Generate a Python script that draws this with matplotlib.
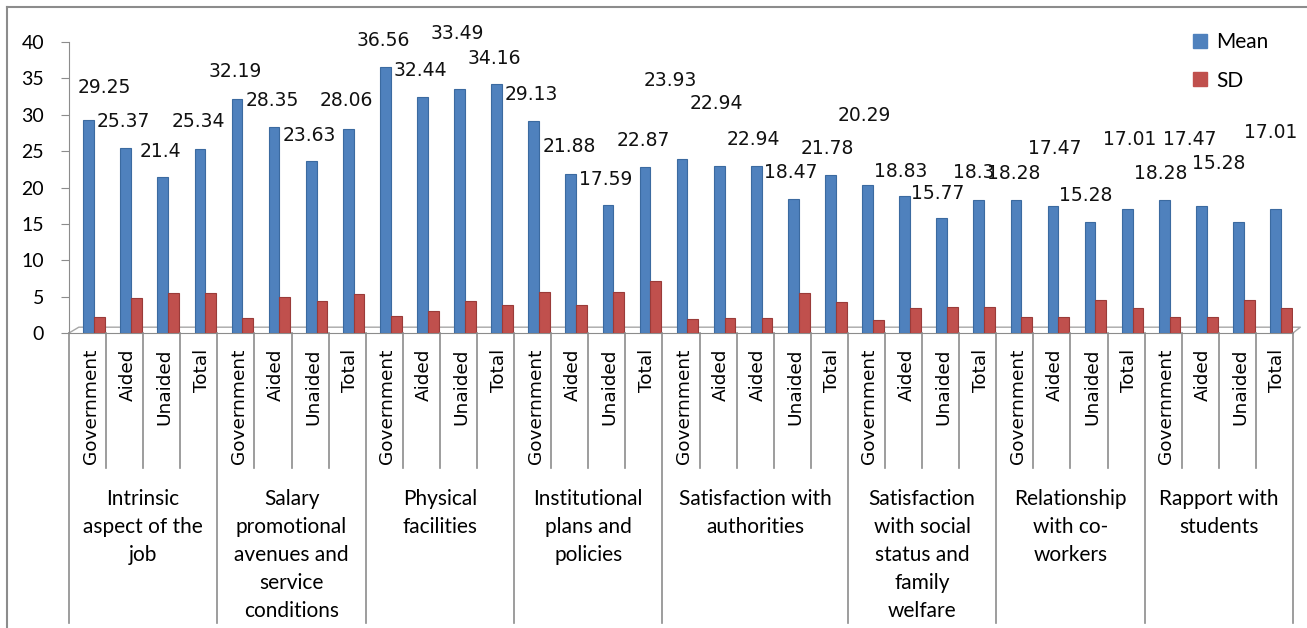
import matplotlib
matplotlib.use("Agg")
import matplotlib.pyplot as plt
import matplotlib.transforms as mtransforms
from matplotlib.lines import Line2D
from matplotlib.patches import Patch

# ---------------- data ----------------
groups = [
    "Intrinsic\naspect of the\njob",
    "Salary\npromotional\navenues and\nservice\nconditions",
    "Physical\nfacilities",
    "Institutional\nplans and\npolicies",
    "Satisfaction with\nauthorities",
    "Satisfaction\nwith social\nstatus and\nfamily\nwelfare",
    "Relationship\nwith co-\nworkers",
    "Rapport with\nstudents",
]
group_sizes = [4, 4, 4, 4, 5, 4, 4, 4]
subcats = [
    "Government", "Aided", "Unaided", "Total",
    "Government", "Aided", "Unaided", "Total",
    "Government", "Aided", "Unaided", "Total",
    "Government", "Aided", "Unaided", "Total",
    "Government", "Aided", "Aided", "Unaided", "Total",
    "Government", "Aided", "Unaided", "Total",
    "Government", "Aided", "Unaided", "Total",
    "Government", "Aided", "Unaided", "Total",
]
mean = [29.25, 25.37, 21.4, 25.34,
        32.19, 28.35, 23.63, 28.06,
        36.56, 32.44, 33.49, 34.16,
        29.13, 21.88, 17.59, 22.87,
        23.93, 22.94, 22.94, 18.47, 21.78,
        20.29, 18.83, 15.77, 18.3,
        18.28, 17.47, 15.28, 17.01,
        18.28, 17.47, 15.28, 17.01]
sd = [2.15, 4.8, 5.55, 5.45,
      2.1, 4.95, 4.35, 5.3,
      2.35, 3.0, 4.4, 3.8,
      5.7, 3.8, 5.65, 7.1,
      1.95, 2.1, 2.1, 5.5, 4.3,
      1.85, 3.5, 3.6, 3.6,
      2.15, 2.15, 4.6, 3.4,
      2.15, 2.15, 4.6, 3.4]
series_names = ["Mean", "SD"]
yticks = [0, 5, 10, 15, 20, 25, 30, 35, 40]

# label placement (style): pixel offsets of each value label from its bar top
label_dx = [16, -2, -2, -2, -2, -2, -2, -2, -2, -2, -2, -2, -2, -2, -2, -2,
            -12, -3, -3, -3, -3, -3, -4, -4, -5, -2, 2, -4, 2, -4, -12, -20, -5]
label_dy = [33, 27, 26, 27, 27, 26, 26, 28, 27, 26, 56, 26, 27, 27, 26, 26,
            78, 63, 27, 26, 26, 70, 25, 25, 27, 27, 57, 26, 70, 27, 66, 58, 77]

# ---------------- style ----------------
W, H = 1307, 628
BLUE, BLUE_E = "#4F81BD", "#3B6AA0"
RED, RED_E = "#C0504D", "#9A3B39"
GRAY = "#8C8C8C"
NUMFONT = ["DejaVu Sans"]
TXTFONT = ["Lato", "DejaVu Sans"]

fig = plt.figure(figsize=(W / 100, H / 100), dpi=100)
fig.patch.set_facecolor("white")
ax_left, ax_right, ax_bot, ax_top = 69, 1293, 333, 42
ax = fig.add_axes([ax_left / W, 1 - ax_bot / H, (ax_right - ax_left) / W, (ax_bot - ax_top) / H])

n = len(mean)
xs = list(range(n))
bw = 0.29
ax.bar([x + 0.03 for x in xs], mean, width=bw, color=BLUE, edgecolor=BLUE_E, linewidth=0.8, zorder=3)
ax.bar([x + 0.32 for x in xs], sd, width=bw, color=RED, edgecolor=RED_E, linewidth=0.8, zorder=3)

for i, v in enumerate(mean):
    ax.annotate(f"{v:g}", xy=(i + 0.03, v), xytext=(label_dx[i], label_dy[i]),
                textcoords="offset pixels", ha="center", va="center",
                fontsize=13.5, family=NUMFONT, color="#111111", zorder=5)

ax.set_xlim(-0.5, n - 0.5)
ax.set_ylim(0, 40)
ax.set_yticks(yticks)
ax.set_yticklabels([str(t) for t in yticks], fontsize=14, family=TXTFONT)
ax.set_xticks([])
for s in ["top", "right"]:
    ax.spines[s].set_visible(False)
ax.spines["left"].set_color(GRAY)
ax.spines["bottom"].set_color(GRAY)
ax.tick_params(axis="y", direction="out", length=6, color=GRAY, pad=12)

# 3D-looking floor edge
floor = dict(color="#A6A6A6", lw=1, transform=ax.transAxes, clip_on=False, zorder=2)
ax.add_line(Line2D([0, 0.008, 1.006, 1.0], [0, 0.02, 0.02, 0], **floor))

# multi-level category axis
blend = mtransforms.blended_transform_factory(ax.transData, fig.transFigure)
y_axis_fig = 1 - ax_bot / H
y_sub_end = 1 - 468 / H
y_grp_end = 1 - 623 / H
bounds = [0]
for g in group_sizes:
    bounds.append(bounds[-1] + g)
for k in range(n + 1):
    is_group = k in bounds
    fig.add_artist(Line2D([k - 0.5, k - 0.5], [y_axis_fig, y_grp_end if is_group else y_sub_end],
                          transform=blend, color=GRAY, lw=1.2))
for i, lab in enumerate(subcats):
    fig.text(i + 0.08, 1 - 349 / H, lab, transform=blend, rotation=90, ha="center", va="top",
             fontsize=13.3, family=NUMFONT, color="black")
for gi, g in enumerate(groups):
    c = (bounds[gi] + bounds[gi + 1] - 1) / 2
    fig.text(c, 1 - 489 / H, g, transform=blend, ha="center", va="top", multialignment="center",
             fontsize=15, family=TXTFONT, color="black", linespacing=1.5)

# legend
handles = [Patch(facecolor=BLUE, edgecolor=BLUE), Patch(facecolor=RED, edgecolor=RED)]
fig.legend(handles, series_names, loc="upper left", bbox_to_anchor=(1193 / W, 1 - 32 / H),
           frameon=False, handlelength=0.65, handleheight=0.65, handletextpad=0.45,
           labelspacing=0.9, borderpad=0, borderaxespad=0,
           prop={"family": TXTFONT, "size": 15})

# chart border (top and left visible)
fig.add_artist(Line2D([7 / W, 1], [1 - 7 / H, 1 - 7 / H], transform=fig.transFigure, color=GRAY, lw=1.5))
fig.add_artist(Line2D([7 / W, 7 / W], [1 - 7 / H, 0], transform=fig.transFigure, color=GRAY, lw=1.5))

fig.savefig("out.png", dpi=100)
